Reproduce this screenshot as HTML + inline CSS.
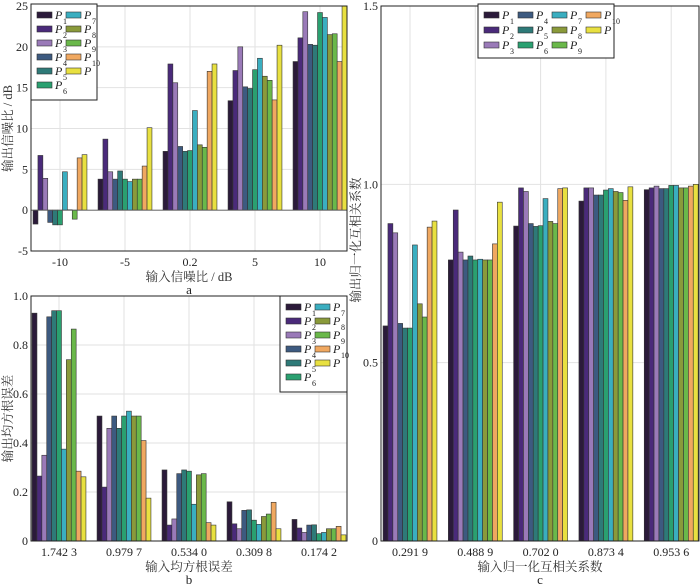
<!DOCTYPE html>
<html><head><meta charset="utf-8">
<style>
body{margin:0;background:#fff;}
svg{display:block;font-family:"Liberation Serif","Noto Serif CJK SC",serif;}
</style></head>
<body>
<svg id="fig" width="700" height="584" viewBox="0 0 700 584"></svg>
<script>
const series = ["P1","P2","P3","P4","P5","P6","P7","P8","P9","P10","P"];
const colors = ["#2b1a3a","#4a2a7a","#9a7ab8","#3d5a80","#2e7a78","#2aa070","#3aaec0","#8a9a3a","#6ab84a","#f0a860","#e8e040"];

const catsA = ["-10","-5","0.2","5","10"];
const valsA = [
 [-1.7,6.7,3.9,-1.5,-1.8,-1.8,4.7,0.05,-1.1,6.4,6.8],
 [3.8,8.7,4.7,3.8,4.8,3.8,3.5,3.8,3.8,5.4,10.1],
 [7.2,17.9,15.6,7.8,7.2,7.3,12.2,8.0,7.7,17.0,17.9],
 [13.4,17.1,20.0,15.1,14.9,17.2,18.6,16.4,15.9,13.5,20.2],
 [18.2,21.1,24.3,20.3,20.2,24.2,23.6,21.5,21.6,18.2,25.0]
];
const ticksA = [-5,0,5,10,15,20,25];

const catsB = ["1.742 3","0.979 7","0.534 0","0.309 8","0.174 2"];
const valsB = [
 [0.93,0.265,0.35,0.915,0.94,0.94,0.375,0.74,0.865,0.285,0.262],
 [0.51,0.22,0.46,0.51,0.46,0.51,0.53,0.51,0.51,0.41,0.175],
 [0.29,0.065,0.09,0.275,0.29,0.285,0.15,0.27,0.275,0.075,0.065],
 [0.16,0.07,0.05,0.125,0.127,0.085,0.068,0.10,0.11,0.158,0.05],
 [0.088,0.053,0.035,0.065,0.066,0.03,0.035,0.05,0.05,0.06,0.025]
];
const ticksB = [0,0.2,0.4,0.6,0.8,1.0];

const catsC = ["0.291 9","0.488 9","0.702 0","0.873 4","0.953 6"];
const valsC = [
 [0.603,0.89,0.864,0.61,0.597,0.597,0.83,0.665,0.628,0.88,0.897],
 [0.788,0.928,0.81,0.788,0.799,0.788,0.79,0.788,0.788,0.833,0.95],
 [0.883,0.99,0.98,0.89,0.882,0.884,0.96,0.896,0.89,0.988,0.99],
 [0.953,0.99,0.99,0.97,0.97,0.984,0.988,0.98,0.977,0.955,0.993],
 [0.985,0.99,0.995,0.988,0.988,0.997,0.997,0.99,0.99,0.995,1.0]
];
const ticksC = [0,0.5,1.0,1.5];

const NS="http://www.w3.org/2000/svg";
const fig=document.getElementById('fig');
function mk(tag,attrs,parent){const e=document.createElementNS(NS,tag);for(const k in attrs)e.setAttribute(k,attrs[k]);(parent||fig).appendChild(e);return e;}

function panel(o){
  const g=mk('g',{});
  
  
  const y=v=>o.y0+(v-o.ymin)/(o.ymax-o.ymin)*(o.y1-o.y0);
  const cx=i=>o.cx0+i*o.step;
  const bw=4.9;
  o.ticks.forEach(t=>{mk('line',{x1:o.x0,x2:o.x1,y1:y(t),y2:y(t),stroke:'#e2e2e2','stroke-width':1},g);});
  o.cats.forEach((c,i)=>{mk('line',{x1:cx(i),x2:cx(i),y1:o.y1,y2:o.y0,stroke:'#e2e2e2','stroke-width':1},g);});
  const clip=mk('clipPath',{id:'clip'+o.name},g);
  mk('rect',{x:o.x0,y:o.y1,width:o.x1-o.x0,height:o.y0-o.y1},clip);
  const bars=mk('g',{'clip-path':'url(#clip'+o.name+')'},g);
  const base=y(Math.max(o.ymin,0));
  o.vals.forEach((row,i)=>{
    row.forEach((v,j)=>{
      const yv=y(v);
      const r=mk('rect',{x:cx(i)+(j-5.5)*bw,y:Math.min(yv,base),width:bw,height:Math.abs(base-yv),fill:colors[j],stroke:'#333','stroke-width':0.6},bars);
      
      
    });
  });
  if(o.ymin<0) mk('line',{x1:o.x0,x2:o.x1,y1:y(0),y2:y(0),stroke:'#555','stroke-width':0.8},g);
  mk('rect',{x:o.x0,y:o.y1,width:o.x1-o.x0,height:o.y0-o.y1,fill:'none',stroke:'#222','stroke-width':1},g);
  o.ticks.forEach(t=>{
    const tx=mk('text',{x:o.x0-3,y:y(t)+4,'text-anchor':'end','font-size':12,fill:'#222'},g);
    tx.textContent=o.fmt(t);
    
    
  });
  o.cats.forEach((c,i)=>{
    const tx=mk('text',{x:cx(i),y:o.y0+15,'text-anchor':'middle','font-size':12,fill:'#222'},g);
    tx.textContent=c;
    
    
  });
  const xl=mk('text',{x:(o.x0+o.x1)/2,y:o.y0+30,'text-anchor':'middle','font-size':12.5,fill:'#333'},g);
  xl.textContent=o.xlabel;
  
  
  const pl=mk('text',{x:(o.x0+o.x1)/2,y:o.y0+43,'text-anchor':'middle','font-size':13,fill:'#222'},g);
  pl.textContent=o.letter;
  
  
  const ym=o.ylmid!==undefined?o.ylmid:(o.y0+o.y1)/2;
  const yl=mk('text',{x:o.ylx,y:ym,'text-anchor':'middle','font-size':12.5,fill:'#333',transform:'rotate(-90 '+o.ylx+' '+ym+')'},g);
  yl.textContent=o.ylabel;
  
  
  const L=o.legend;
  const lg=mk('g',{},g);
  
  
  mk('rect',{x:L.x,y:L.y,width:L.w,height:L.h,fill:'#fff',stroke:'#222','stroke-width':1},lg);
  series.forEach((s,j)=>{
    const col=Math.floor(j/L.rows), row=j%L.rows;
    const sx=L.x+6+col*L.colw, sy=L.y+8+row*L.rowh;
    const e=mk('g',{},lg);
    
    
    mk('rect',{x:sx,y:sy,width:15,height:6,fill:colors[j],stroke:'#333','stroke-width':0.6},e);
    const t=mk('text',{x:sx+18,y:sy+7,'font-size':12,'font-style':'italic',fill:'#222'},e);
    t.textContent='P';
    if(s.length>1){const sub=mk('text',{x:sx+26,y:sy+12,'font-size':8,fill:'#222'},e);sub.textContent=s.slice(1);}
  });
}

panel({name:'panel-a',x0:31,x1:347,y0:251,y1:6,ymin:-5,ymax:25,cx0:60,step:65,cats:catsA,vals:valsA,ticks:ticksA,fmt:t=>String(t),
  xlabel:'输入信噪比 / dB',ylabel:'输出信噪比 / dB',letter:'a',ylx:12,legend:{x:31,y:4,w:66,h:96,rows:6,colw:29,rowh:14}});
panel({name:'panel-b',x0:31,x1:347,y0:541,y1:296,ymin:0,ymax:1,cx0:59,step:65,cats:catsB,vals:valsB,ticks:ticksB,fmt:t=>t===0?'0':t.toFixed(1),
  xlabel:'输入均方根误差',ylabel:'输出均方根误差',letter:'b',ylx:12,legend:{x:280,y:296,w:67,h:96,rows:6,colw:29,rowh:14}});
panel({name:'panel-c',x0:381,x1:699,y0:541,y1:6,ymin:0,ymax:1.5,cx0:410,step:65.3,cats:catsC,vals:valsC,ticks:ticksC,fmt:t=>t===0?'0':t.toFixed(1),
  xlabel:'输入归一化互相关系数',ylabel:'输出归一化互相关系数',letter:'c',ylx:360,ylmid:240,legend:{x:478,y:4,w:136,h:54,rows:3,colw:34,rowh:15}});
</script>
</body></html>
